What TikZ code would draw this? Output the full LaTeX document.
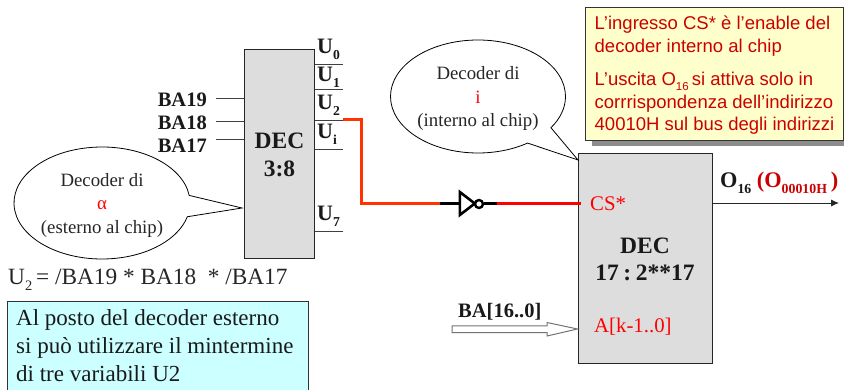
\documentclass[tikz,border=0pt]{standalone}
\usepackage{fontspec}
\usepackage{graphicx}
\setmainfont{Liberation Serif}
\newfontfamily\arialf{Liberation Sans}
\usetikzlibrary{shapes.callouts,shapes.geometric,arrows.meta}
\newcommand{\fsz}[2]{\fontsize{#1}{#2}\selectfont}
\newcommand{\sbs}[1]{\raisebox{-.25em}{\scalebox{.62}{#1}}}
\definecolor{boxgray}{HTML}{DDDDDD}
\definecolor{wirered}{HTML}{FF3300}
\definecolor{purered}{HTML}{FF0000}
\definecolor{notered}{HTML}{CC0000}
\definecolor{noteyellow}{HTML}{FFFFCC}
\definecolor{notecyan}{HTML}{CCFFFF}
\tikzset{
  chip/.style={draw=black!85,line width=1pt,fill=boxgray,inner sep=0pt,minimum width=#1},
  boldlab/.style={font=\fsz{20.5}{24}\bfseries,inner sep=0pt,text=black!90},
  outlab/.style={font=\fsz{22}{24}\bfseries,inner sep=0pt,anchor=base west,text=black!90},
  pin/.style={line width=.8pt,draw=black!75},
  bubble/.style={ellipse callout,draw=black,line width=.8pt,fill=white,inner sep=0pt},
  bubbletext/.style={inner sep=0pt,align=center,font=\fsz{18.8}{23.5}\selectfont,text=black!85},
  redwire/.style={line width=3pt,draw=wirered},
  blackstub/.style={line width=3pt,draw=black},
  redlab/.style={text=purered,inner sep=0pt,font=\fsz{20.8}{24}\selectfont},
  note/.style={draw=black!80,line width=.8pt,inner sep=0pt},
}
\begin{document}
\begin{tikzpicture}[x=1pt,y=-1pt]
\useasboundingbox (0,0) rectangle (844,390);
\fill[white] (0,0) rectangle (844,390);

% left decoder
\node[chip=70pt,minimum height=209pt] (dec3) at (279.75,154.5) {};
\node[font=\fsz{23.5}{28}\bfseries,align=center,inner sep=0pt,text=black!90] (dec3t) at (279.5,155) {DEC\\3:8};

% inputs
\node[boldlab,anchor=east] (ba19) at (207,100) {BA19};
\node[boldlab,anchor=east] (ba18) at (207,123) {BA18};
\node[boldlab,anchor=east] (ba17) at (207,146) {BA17};
\coordinate (i19) at (216,98);
\coordinate (i18) at (216,121);
\coordinate (i17) at (216,139);
\draw[pin] (i19) -- (i19 -| dec3.west);
\draw[pin] (i18) -- (i18 -| dec3.west);
\draw[pin] (i17) -- (i17 -| dec3.west);

% outputs
\coordinate (o0) at (343,64);
\coordinate (o1) at (343,89);
\coordinate (o2) at (343,120);
\coordinate (oi) at (343,149);
\coordinate (o7) at (343,231);
\draw[pin] (o0) -- (o0 -| dec3.east);
\draw[pin] (o1) -- (o1 -| dec3.east);
\draw[pin] (o2) -- (o2 -| dec3.east);
\draw[pin] (oi) -- (oi -| dec3.east);
\draw[pin] (o7) -- (o7 -| dec3.east);
\node[outlab] (u0) at (317,54) {U\sbs{0}};
\node[outlab] (u1) at (317,82) {U\sbs{1}};
\node[outlab] (u2) at (317,110) {U\sbs{2}};
\node[outlab] (ui) at (317,139) {U\sbs{i}};
\node[outlab] (u7) at (317,221) {U\sbs{7}};

% callout alpha
\node[bubble,minimum width=176pt,minimum height=112pt,callout absolute pointer={(242,208)},callout pointer arc=22] (ca) at (102,203) {};
\node[bubbletext] (cat) at (ca.center) [yshift=-2pt] {Decoder di\\{\color{purered}α}\\(esterno al chip)};

% formula
\node[anchor=base west,inner sep=0pt,font=\fsz{23.3}{26}\selectfont,text=black!85] (form) at (8,285) {U\sbs{2}\,= /BA19 * BA18\ \ * /BA17};

% cyan note
\draw[note,fill=notecyan] (7.5,301) rectangle (308.5,391);
\node[anchor=north west,inner sep=0pt,align=left,font=\fsz{23}{27.8}\selectfont,text=black!90] (cyan) at (16,309.5)
 {Al posto del decoder esterno\\si può utilizzare il mintermine\\di tre variabili U2};

% yellow note
\fill[black!45] (592,14) rectangle (844,146);
\draw[note,fill=noteyellow] (585.5,7.5) rectangle (843.5,140);
\node[anchor=north west,inner sep=0pt,align=left,font=\arialf\fsz{18.5}{23}\selectfont,text=notered] (yt1) at (594.5,16)
 {L’ingresso CS* è l’enable del\\decoder interno al chip};
\node[anchor=north west,inner sep=0pt,align=left,font=\arialf\fsz{18.5}{22.6}\selectfont,text=notered] (yt2) at (594.5,72)
 {L’uscita O\sbs{16}\,si attiva solo in\\corrrispondenza dell’indirizzo\\40010H sul bus degli indirizzi};

% right decoder
\node[chip=134pt,minimum height=209pt] (dec17) at (645,258.5) {};
\node[font=\fsz{23.5}{27.5}\bfseries,align=center,inner sep=0pt,text=black!90] (dec17t) at (645,259.5) {DEC\\17\hspace{4.5pt}:\hspace{4.5pt}2**17};
\node[redlab,anchor=west] (cs) at (590,204) {CS*};
\node[redlab,anchor=west] (ak) at (594,327) {A[k-1..0]};

% callout i
\node[bubble,minimum width=175pt,minimum height=113pt,callout absolute pointer={(578,160)},callout pointer arc=22] (cb) at (478,96.5) {};
\node[bubbletext] (cbt) at (cb.center) [yshift=-2pt] {Decoder di\\{\color{purered}i}\\(interno al chip)};

% inverter
\node[isosceles triangle,isosceles triangle apex angle=75,draw=black,line width=2.6pt,fill=white,inner sep=0pt,minimum height=15pt,minimum width=20pt,anchor=west] (inv) at (458.5,203.5) {};
\node[circle,draw=black,line width=2.4pt,fill=white,inner sep=0pt,minimum size=8pt,anchor=center] (bub) at (479,204) {};
\coordinate (sw) at (440,203.5);
\coordinate (se) at (497,204);
\draw[redwire,line join=miter] (o2) -- (361,120) -- (361,203.5) -- (sw);
\draw[blackstub] (sw) -- (inv.west);
\draw[blackstub] (bub.east) -- (se);
\draw[line width=3pt,draw=purered] (se) -- (581,204);

% output
\coordinate (oend) at (839,203);
\draw[line width=.9pt,draw=black!85,-{Latex[length=8pt,width=7pt]}] (dec17.east |- oend) -- (oend);
\node[anchor=base west,inner sep=0pt,font=\fsz{22.3}{24}\bfseries,text=black!90] (olab) at (720,188)
 {O\sbs{16}\ {\color{notered}(O\sbs{00010H}\,)}};

% bus
\node[boldlab,anchor=base west] (ba) at (458,317) {BA[16..0]};
\path[draw=black!55,line width=1pt,fill=white] (452,326) -- (547,326) -- (547,322.5) -- (dec17.west |- 0,329) -- (547,336) -- (547,332.5) -- (452,332.5) -- cycle;
\end{tikzpicture}
\end{document}
